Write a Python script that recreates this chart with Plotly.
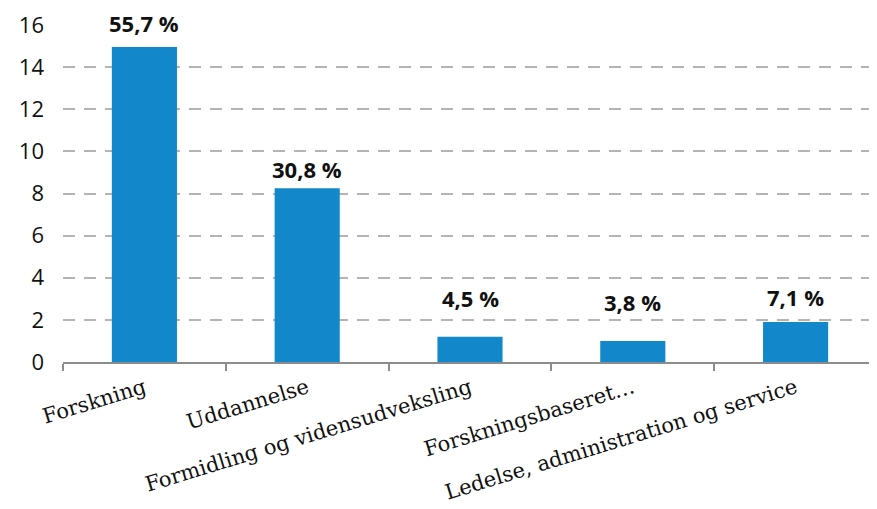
import plotly.graph_objects as go

kategorier = [
    "Forskning",
    "Uddannelse",
    "Formidling og vidensudveksling",
    "Forskningsbaseret…",
    "Ledelse, administration og service",
]
vaerdier = [14.95, 8.25, 1.2, 1.0, 1.9]
procent_labels = ["55,7 %", "30,8 %", "4,5 %", "3,8 %", "7,1 %"]
y_ticks = [0, 2, 4, 6, 8, 10, 12, 14, 16]

# afstand fra søjletop til label (px)
label_offset = [24, 19, 39, 39, 25]

fig = go.Figure(
    go.Bar(
        x=kategorier,
        y=vaerdier,
        width=0.4,
        marker=dict(color="#1288CA", line=dict(width=0)),
        hoverinfo="skip",
    )
)

for kat, v, lab, off in zip(kategorier, vaerdier, procent_labels, label_offset):
    fig.add_annotation(
        x=kat, y=v, text=f"<b>{lab}</b>", showarrow=False,
        yanchor="middle", yshift=off,
        font=dict(family="Open Sans", size=22, color="#111111"),
    )

# siden har 8px body-margin, så figuren gøres tilsvarende mindre
fig.update_layout(
    width=869, height=501,
    margin=dict(l=55, r=0, t=17, b=147),
    plot_bgcolor="white", paper_bgcolor="white",
    showlegend=False,
    xaxis=dict(
        type="category", automargin=False,
        showline=True, linecolor="#8c8c8c", linewidth=1.5,
        ticks="outside", tickson="boundaries", ticklen=7,
        tickcolor="#8c8c8c", tickwidth=1.5,
        tickangle=-17, ticklabelstandoff=4,
        tickfont=dict(family="DejaVu Serif", size=21, color="#111111"),
        showgrid=False,
    ),
    yaxis=dict(
        range=[0, 16], tickvals=y_ticks, automargin=False,
        showline=False, zeroline=False,
        showgrid=True, gridcolor="#b4b4b4", gridwidth=1.5,
        griddash="12px,9px",
        ticklabelstandoff=18,
        tickfont=dict(family="Open Sans", size=22, color="#111111"),
    ),
)

fig.write_html("out.html")
